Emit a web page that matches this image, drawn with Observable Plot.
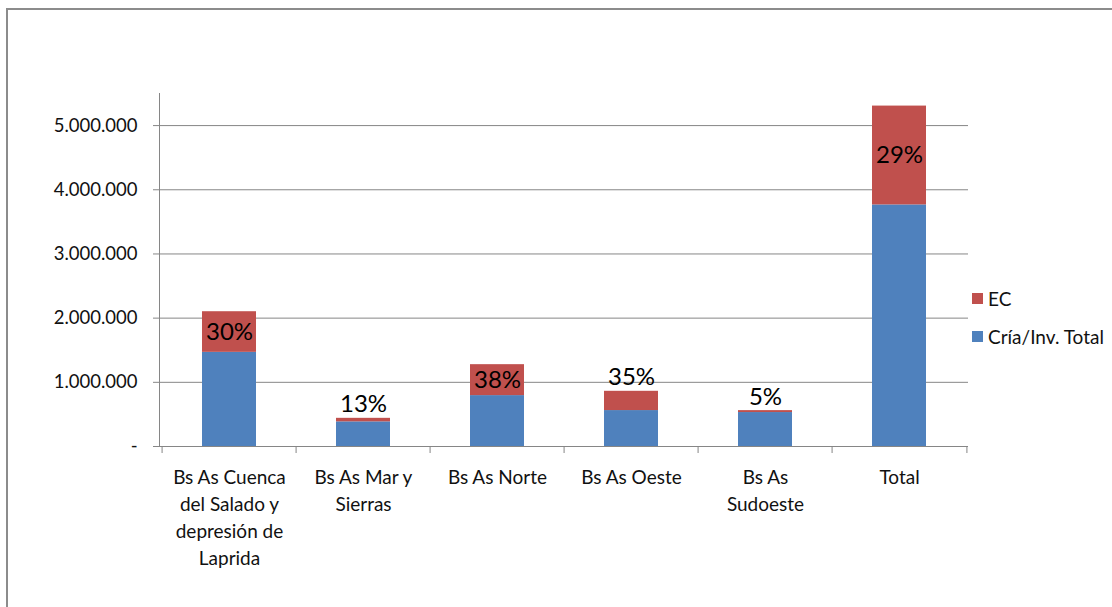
<!DOCTYPE html>
<html>
<head>
<meta charset="utf-8">
<script src="https://cdn.jsdelivr.net/npm/d3@7"></script>
<script src="https://cdn.jsdelivr.net/npm/@observablehq/plot@0.6"></script>
<style>
  html, body { margin: 0; padding: 0; background: #fff; }
  body { width: 1112px; height: 607px; position: relative; overflow: hidden; font-family: Lato, "Open Sans", sans-serif; }
  #frame { position: absolute; left: 6px; top: 8px; width: 1200px; height: 700px; border: 2px solid #8c8c8c; box-sizing: border-box; }
  #chart { position: absolute; left: 0; top: 0; }
  #legend { position: absolute; left: 972px; top: 279px; font-size: 19px; color: #111; }
  .item { display: flex; align-items: center; height: 38px; }
  .sw { width: 11px; height: 11px; margin-right: 5px; }
</style>
</head>
<body>
<div id="frame"></div>
<div id="chart"></div>
<div id="legend"></div>
<script>
const categories = ["Bs As Cuenca del Salado y depresión de Laprida", "Bs As Mar y Sierras", "Bs As Norte", "Bs As Oeste", "Bs As Sudoeste", "Total"];
const categoryLines = [["Bs As Cuenca", "del Salado y", "depresión de", "Laprida"], ["Bs As Mar y", "Sierras"], ["Bs As Norte"], ["Bs As Oeste"], ["Bs As", "Sudoeste"], ["Total"]];
const seriesNames = ["Cría/Inv. Total", "EC"];
const criaValues = [1467000, 384000, 793000, 560000, 529000, 3764000];
const ecValues = [633000, 55000, 482000, 300000, 30000, 1540000];
const pctLabels = ["30%", "13%", "38%", "35%", "5%", "29%"];
const yTicks = [0, 1000000, 2000000, 3000000, 4000000, 5000000];
const colors = ["#4F81BD", "#C0504D"];

const W = 1112, H = 607;
const mL = 159, mR = 144, mT = 93, mB = 161;
const halfStep = (W - mL - mR) / categories.length / 2;

const rows = [];
categories.forEach((c, i) => {
  rows.push({cat: c, series: seriesNames[0], value: criaValues[i]});
  rows.push({cat: c, series: seriesNames[1], value: ecValues[i]});
});
const labels = categories.map((c, i) => ({cat: c, cria: criaValues[i], ec: ecValues[i], label: pctLabels[i]}));
const inside = labels.filter(d => d.ec >= 400000);
const outside = labels.filter(d => d.ec < 400000);

const loc = d3.formatLocale({decimal: ",", thousands: ".", grouping: [3], currency: ["$", ""]});
const fmt = loc.format(",");
const lineMap = new Map(categories.map((c, i) => [c, categoryLines[i].join("\n")]));

const plot = Plot.plot({
  width: W,
  height: H,
  marginLeft: mL,
  marginRight: mR,
  marginTop: mT,
  marginBottom: mB,
  style: {fontFamily: "Lato, 'Open Sans', sans-serif", color: "#111", background: "transparent"},
  x: {domain: categories, paddingInner: 0.6, paddingOuter: 0.3, align: 0.5, label: null, axis: null},
  y: {domain: [0, 5500000], label: null, axis: null},
  color: {domain: seriesNames, range: colors},
  marks: [
    Plot.gridY(yTicks, {stroke: "#868686", strokeOpacity: 1, strokeWidth: 1}),
    Plot.frame({anchor: "left", stroke: "#868686", strokeWidth: 1}),
    Plot.axisY(yTicks, {tickFormat: d => d === 0 ? "-" : fmt(d), tickSize: 6, tickPadding: 16, fontSize: 18.5, stroke: "#868686", fill: "#111", label: null}),
    Plot.axisX({tickSize: 7, tickFormat: () => "", dx: -halfStep, stroke: "#868686", label: null}),
    Plot.axisX(["Total"], {tickSize: 7, tickFormat: () => "", dx: halfStep, stroke: "#868686", label: null}),
    Plot.axisX({tickSize: 0, tickPadding: 18, tickFormat: d => lineMap.get(d), lineHeight: 1.42, fontSize: 19, fill: "#111", label: null, lineAnchor: "top"}),
    Plot.barY(rows, {x: "cat", y: "value", fill: "series", order: seriesNames}),
    Plot.text(inside, {x: "cat", y: d => d.cria + d.ec / 2, text: "label", fontSize: 24, fill: "#000"}),
    Plot.text(outside, {x: "cat", y: d => d.cria + d.ec, text: "label", fontSize: 24, fill: "#000", lineAnchor: "bottom", dy: -6})
  ]
});
document.getElementById("chart").appendChild(plot);

const legend = document.getElementById("legend");
[1, 0].forEach(i => {
  const it = document.createElement("div");
  it.className = "item";
  const sw = document.createElement("div");
  sw.className = "sw";
  sw.style.background = colors[i];
  const tx = document.createElement("span");
  tx.textContent = seriesNames[i];
  it.appendChild(sw);
  it.appendChild(tx);
  legend.appendChild(it);
});
</script>
</body>
</html>
